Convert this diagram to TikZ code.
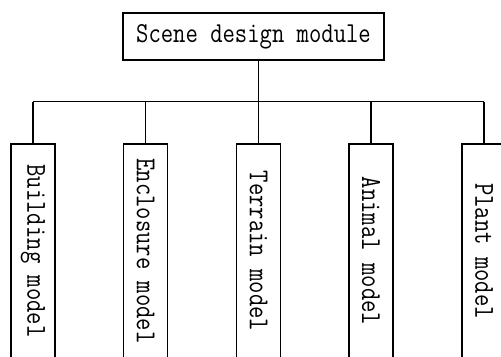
\documentclass[tikz,border=0pt]{standalone}
\usepackage{fontspec}
\newfontfamily\diagfont{Latin Modern Mono}[FakeStretch=0.83]
\begin{document}
\begin{tikzpicture}[x=1bp,y=-1bp,
  box/.style={draw, line width=1.3bp, inner sep=0pt, font=\diagfont\fontsize{29}{30}\selectfont},
  leaf/.style={box, rotate=-90, minimum width=214bp, minimum height=44bp},
  conn/.style={line width=1.3bp}]
\useasboundingbox (0,0) rectangle (501,356);
\clip (0,0) rectangle (501,356);
\node[box, minimum width=261bp, minimum height=47bp] (top) at (253.5,36.5) {Scene design module};
\node[leaf] (b1) at (33,251) {Building model};
\node[leaf] (b2) at (145.5,251) {Enclosure model};
\node[leaf] (b3) at (258.5,251) {Terrain model};
\node[leaf] (b4) at (371,251) {Animal model};
\node[leaf] (b5) at (484,251) {Plant model};
\coordinate (busL) at (33,101.5);
\coordinate (busR) at (484,101.5);
\draw[conn] (busL) -- (busR);
\draw[conn] (b3.west) -- (b3.west |- top.south);
\foreach \n in {b1,b2,b4,b5}{
  \draw[conn] (\n.west) -- (\n.west |- busL);
}
\end{tikzpicture}
\end{document}
